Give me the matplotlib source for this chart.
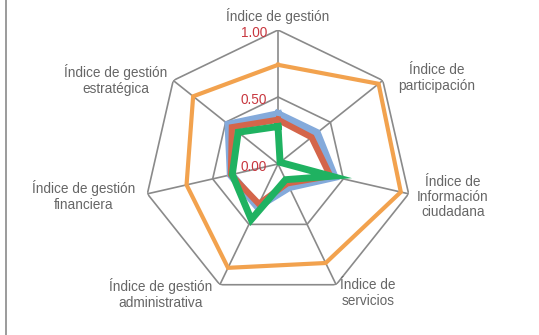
import numpy as np
import matplotlib
matplotlib.use("Agg")
import matplotlib.pyplot as plt
from matplotlib.lines import Line2D

categories = ["Índice de gestión", "Índice de\nparticipación", "Índice de\nInformación\nciudadana",
              "Índice de\nservicios", "Índice de gestión\nadministrativa",
              "Índice de gestión\nfinanciera", "Índice de gestión\nestratégica"]
orange = [0.74, 0.96, 0.94, 0.82, 0.86, 0.70, 0.81]
blue = [0.37, 0.37, 0.43, 0.19, 0.35, 0.36, 0.47]
red = [0.33, 0.32, 0.40, 0.16, 0.33, 0.36, 0.44]
green = [0.28, 0.02, 0.41, 0.13, 0.46, 0.35, 0.38]
rticks = [0.0, 0.5, 1.0]
rtick_labels = ["0.00", "0.50", "1.00"]

plt.rcParams['font.family'] = ['Liberation Sans', 'DejaVu Sans']

W, H = 539, 335
fig = plt.figure(figsize=(W / 100, H / 100), dpi=100)
cx, cy, R = 278, 164, 134
ax = fig.add_axes([(cx - R) / W, 1 - (cy + R) / H, 2 * R / W, 2 * R / H], projection='polar')
ax.set_theta_zero_location('N')
ax.set_theta_direction(-1)
ax.set_ylim(0, 1)
ax.grid(False)
ax.spines['polar'].set_visible(False)
ax.set_xticks([])
ax.set_yticks([])
ax.patch.set_alpha(0)

n = len(categories)
theta = np.linspace(0, 2 * np.pi, n, endpoint=False)
tc = np.append(theta, theta[0])

grid_c = '#8a8a8a'
for r in rticks[1:]:
    ax.plot(tc, [r] * (n + 1), color=grid_c, lw=1.2, zorder=1)
for t in theta:
    ax.plot([t, t], [0, 1], color=grid_c, lw=1.2, zorder=1)

def closed(v):
    return np.append(v, v[0])

ax.plot(tc, closed(orange), color='#F2A24E', lw=3, zorder=3, solid_joinstyle='miter')
ax.plot(tc, closed(blue), color='#84AADB', lw=6, zorder=4, solid_joinstyle='miter')
ax.plot(tc, closed(red), color='#D4654A', lw=4.5, zorder=5, solid_joinstyle='miter')
ax.plot(tc, closed(green), color='#1FB261', lw=5, zorder=6, solid_joinstyle='miter')

for r, lab in zip(rticks, rtick_labels):
    ax.annotate(lab, xy=(0, r), xytext=(-8, -2), textcoords='offset points',
                ha='right', va='center', color='#C8373F', fontsize=9.8, zorder=7)

label_pos = [(278, 16), (437, 78), (453, 197), (368, 293), (161, 294), (84, 196), (116, 80)]
for lab, (px, py) in zip(categories, label_pos):
    fig.text(px / W, 1 - py / H, lab, ha='center', va='center', fontsize=9.8,
             color='#666666', multialignment='center', linespacing=1.1)

fig.add_artist(Line2D([5.5 / W, 5.5 / W], [0, 1], color='#8a8a8a', lw=1.2))

fig.savefig('out.png', dpi=100)
